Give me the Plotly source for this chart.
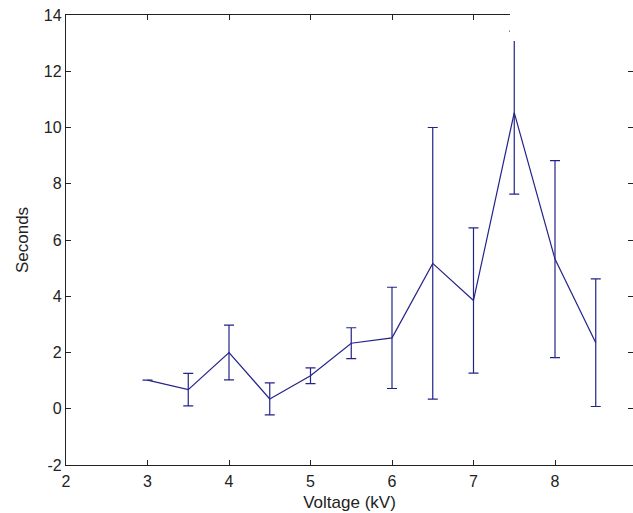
import plotly.graph_objects as go

# Mean time per applied voltage, with symmetric error bars
voltage = [3.0, 3.5, 4.0, 4.5, 5.0, 5.5, 6.0, 6.5, 7.0, 7.5, 8.0, 8.5]
seconds = [1.02, 0.68, 2.0, 0.35, 1.17, 2.33, 2.52, 5.17, 3.85, 10.53, 5.32, 2.35]
spread = [0.0, 0.58, 0.97, 0.57, 0.28, 0.55, 1.8, 4.83, 2.58, 2.9, 3.5, 2.27]

x_ticks = [2, 3, 4, 5, 6, 7, 8, 9]
y_ticks = [-2, 0, 2, 4, 6, 8, 10, 12, 14]
y_tick_text = ["-2", "0", "2", "4", "6", "8", "10", "12", "14"]

W, H = 633, 513
L, T, B = 66, 15, 48
px_per_kv = 81.5
x_max = 2 + (W - L) / px_per_kv

line_col = "#23238a"
axis_col = "#222222"
family = "Liberation Sans, Arial, sans-serif"
tick_font = dict(family=family, size=16, color="#222222")
title_font = dict(family=family, size=17, color="#222222")

fig = go.Figure()
fig.add_trace(go.Scatter(
    x=voltage, y=seconds, mode="lines",
    line=dict(color=line_col, width=1.2),
    error_y=dict(type="data", array=spread, visible=True,
                 color=line_col, thickness=1.2, width=5),
    showlegend=False, hoverinfo="skip",
))
# invisible companion trace carries the right-hand tick marks
fig.add_trace(go.Scatter(x=[voltage[0]], y=[seconds[0]], yaxis="y2",
                         mode="markers", marker=dict(opacity=0),
                         showlegend=False, hoverinfo="skip"))

fig.update_layout(
    width=W, height=H,
    margin=dict(l=L, r=0, t=T, b=B),
    paper_bgcolor="white", plot_bgcolor="white",
    font=tick_font,
    xaxis=dict(
        range=[2, x_max], tickvals=x_ticks, ticktext=[str(v) for v in x_ticks],
        ticks="inside", ticklen=5, tickcolor=axis_col, tickwidth=1.2,
        showline=True, linecolor=axis_col, linewidth=1.3, mirror="ticks",
        showgrid=False, zeroline=False, tickfont=tick_font,
        ticklabelstandoff=2,
        title=dict(text="Voltage (kV)", font=title_font, standoff=6),
    ),
    yaxis=dict(
        range=[-2, 14], tickvals=y_ticks, ticktext=y_tick_text,
        ticks="inside", ticklen=5, tickcolor=axis_col, tickwidth=1.2,
        showline=True, linecolor=axis_col, linewidth=1.3,
        showgrid=False, zeroline=False, tickfont=tick_font,
        title=dict(text="Seconds", font=title_font, standoff=10),
    ),
    yaxis2=dict(
        range=[-2, 14], tickvals=y_ticks, overlaying="y", side="right",
        ticks="inside", ticklen=5, tickcolor=axis_col, tickwidth=1.2,
        showticklabels=False, showline=False, showgrid=False, zeroline=False,
    ),
    shapes=[
        # blank patch over the upper-right corner of the frame
        dict(type="rect", xref="paper", yref="paper", layer="above",
             x0=(510 - L) / (W - L), x1=1.02, y0=(H - B - 41) / (H - B - T), y1=1.1,
             fillcolor="white", line=dict(width=0)),
    ],
)

fig.write_html("out.html")
